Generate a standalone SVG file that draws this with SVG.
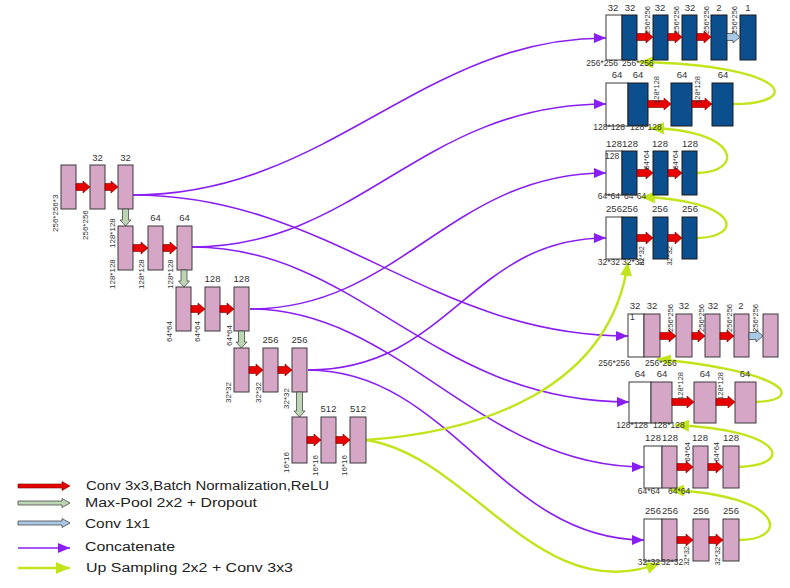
<svg xmlns="http://www.w3.org/2000/svg" width="790" height="588" viewBox="0 0 790 588">
<style>
.pk{fill:#d6a6c6;stroke:#3a3a3a;stroke-width:1}
.bl{fill:#0c4f8f;stroke:#1a1a1a;stroke-width:1}
.wh{fill:#fff;stroke:#3a3a3a;stroke-width:1}
.ra{fill:#e60000;stroke:#700;stroke-width:0.6}
.mp{fill:#bcd6b4;stroke:#4a4a4a;stroke-width:0.8}
.ca{fill:#a9c8e6;stroke:#4a4a4a;stroke-width:0.8}
.cat{fill:none;stroke:#8a1ef2;stroke-width:1.6;marker-end:url(#mkp)}
.up{fill:none;stroke:#c2e41c;stroke-width:2.4;marker-end:url(#mkg)}
text{font-family:"Liberation Sans",Arial,sans-serif;fill:#333}
.n{font-size:9.5px;text-anchor:middle}
.r{font-size:8px}
.re{font-size:7.5px;text-anchor:end}
.b{font-size:8.5px}
.be{font-size:8.5px;text-anchor:end}
.lg{font-size:12.5px;fill:#222}
</style>
<defs>
<marker id="mkp" markerWidth="12" markerHeight="10" refX="12" refY="5" orient="auto" markerUnits="userSpaceOnUse"><path d="M0,0L12,5L0,10Z" fill="#8a1ef2"/></marker>
<marker id="mkg" markerWidth="14" markerHeight="12" refX="14" refY="6" orient="auto" markerUnits="userSpaceOnUse"><path d="M0,0L14,6L0,12Z" fill="#c2e41c"/></marker>
</defs>

<g id="connectors">
<path class="cat" d="M133,195 C330,195 420,38 606,38"/>
<path class="cat" d="M133,195 C330,195 430,336 628,336"/>
<path class="cat" d="M192,247 C360,247 420,104 606,104"/>
<path class="cat" d="M192,247 C360,247 430,402 629,402"/>
<path class="cat" d="M250,309 C400,309 450,173 606,173"/>
<path class="cat" d="M250,309 C400,309 480,467 644,467"/>
<path class="cat" d="M308,370 C450,370 470,238 606,238"/>
<path class="cat" d="M308,370 C450,370 500,540 644,540"/>
<path class="up" d="M733,104 C805,104 790,65 639,62"/>
<path class="up" d="M697,173 C745,172 740,130 650,128"/>
<path class="up" d="M697,238 C745,237 740,200 641,197"/>
<path class="up" d="M366,440 C480,432 610,390 628,262"/>
<path class="up" d="M366,440 C470,455 540,610 660,563"/>
<path class="up" d="M756,402 C805,400 790,372 657,359"/>
<path class="up" d="M739,467 C795,465 785,430 675,425"/>
<path class="up" d="M739,540 C790,540 785,495 670,490"/>
</g>

<g id="enc1">
<rect class="pk" x="61" y="165" width="15" height="44"/>
<rect class="pk" x="90" y="165" width="15" height="44"/>
<rect class="pk" x="118" y="165" width="15" height="44"/>
<path class="ra" d="M76,183.5H83V181L90,187L83,193V190.5H76Z"/>
<path class="ra" d="M105,183.5H111V181L118,187L111,193V190.5H105Z"/>
<text class="n" x="97.5" y="161">32</text>
<text class="n" x="125.5" y="161">32</text>
<text class="r" transform="translate(57.5,232) rotate(-90)">256*256*3</text>
<text class="r" transform="translate(87.5,240) rotate(-90)">256*256</text>
<text class="r" transform="translate(114.5,248) rotate(-90)">128*128</text>
<path class="mp" d="M122.5,209V220H120L125.5,226L131,220H128.5V209Z"/>
</g>

<g id="enc2">
<rect class="pk" x="118" y="226" width="15" height="44"/>
<rect class="pk" x="148" y="226" width="15" height="44"/>
<rect class="pk" x="177" y="226" width="15" height="44"/>
<path class="ra" d="M133,244.5H141V242L148,248L141,254V251.5H133Z"/>
<path class="ra" d="M163,244.5H170V242L177,248L170,254V251.5H163Z"/>
<text class="n" x="155.5" y="221">64</text>
<text class="n" x="184.5" y="221">64</text>
<text class="r" transform="translate(114.5,289) rotate(-90)">128*128</text>
<text class="r" transform="translate(143.5,289) rotate(-90)">128*128</text>
<text class="r" transform="translate(172.5,289) rotate(-90)">128*128</text>
<path class="mp" d="M181,270V281H178.5L184,287L189.5,281H187V270Z"/>
</g>

<g id="enc3">
<rect class="pk" x="176" y="287" width="15" height="44"/>
<rect class="pk" x="205" y="287" width="15" height="44"/>
<rect class="pk" x="234" y="287" width="15" height="44"/>
<path class="ra" d="M191,305.5H198V303L205,309L198,315V312.5H191Z"/>
<path class="ra" d="M220,305.5H227V303L234,309L227,315V312.5H220Z"/>
<text class="n" x="212.5" y="282">128</text>
<text class="n" x="241.5" y="282">128</text>
<text class="r" transform="translate(171.5,342) rotate(-90)">64*64</text>
<text class="r" transform="translate(199.5,342) rotate(-90)">64*64</text>
<text class="r" transform="translate(231.5,346) rotate(-90)">64*64</text>
<path class="mp" d="M238.5,331V342H236L241.5,348L247,342H244.5V331Z"/>
</g>

<g id="enc4">
<rect class="pk" x="234" y="348" width="15" height="44"/>
<rect class="pk" x="263" y="348" width="15" height="44"/>
<rect class="pk" x="292" y="348" width="15" height="44"/>
<path class="ra" d="M249,366.5H256V364L263,370L256,376V373.5H249Z"/>
<path class="ra" d="M278,366.5H285V364L292,370L285,376V373.5H278Z"/>
<text class="n" x="270.5" y="343">256</text>
<text class="n" x="299.5" y="343">256</text>
<text class="r" transform="translate(230.5,403) rotate(-90)">32*32</text>
<text class="r" transform="translate(260.5,403) rotate(-90)">32*32</text>
<text class="r" transform="translate(288.5,409) rotate(-90)">32*32</text>
<path class="mp" d="M296.5,392V411H294L299.5,417L305,411H302.5V392Z"/>
</g>

<g id="enc5">
<rect class="pk" x="292" y="417" width="15" height="46"/>
<rect class="pk" x="321" y="417" width="15" height="46"/>
<rect class="pk" x="350" y="417" width="16" height="46"/>
<path class="ra" d="M307,436.5H314V434L321,440L314,446V443.5H307Z"/>
<path class="ra" d="M336,436.5H343V434L350,440L343,446V443.5H336Z"/>
<text class="n" x="328.5" y="412">512</text>
<text class="n" x="358" y="412">512</text>
<text class="r" transform="translate(288.5,473) rotate(-90)">16*16</text>
<text class="r" transform="translate(317.5,476) rotate(-90)">16*16</text>
<text class="r" transform="translate(346.5,476) rotate(-90)">16*16</text>
</g>

<g id="decA1">
<rect class="wh" x="606" y="15" width="16" height="45"/>
<rect class="bl" x="622" y="15" width="15" height="45"/>
<rect class="bl" x="653" y="15" width="15" height="45"/>
<rect class="bl" x="682" y="15" width="15" height="45"/>
<rect class="bl" x="711" y="15" width="16" height="45"/>
<rect class="bl" x="740" y="15" width="16" height="45"/>
<path class="ra" d="M637,33.5H646V31L653,37L646,43V40.5H637Z"/>
<path class="ra" d="M668,33.5H675V31L682,37L675,43V40.5H668Z"/>
<path class="ra" d="M697,33.5H704V31L711,37L704,43V40.5H697Z"/>
<path class="ca" d="M727,33.5H733V31L740,37L733,43V40.5H727Z"/>
<text class="n" x="613" y="11">32</text>
<text class="n" x="630" y="11">32</text>
<text class="n" x="660" y="11">32</text>
<text class="n" x="690" y="11">32</text>
<text class="n" x="719" y="11">2</text>
<text class="n" x="748" y="11">1</text>
<text class="re" transform="translate(649.5,6) rotate(-90)">256*256</text>
<text class="re" transform="translate(678.5,6) rotate(-90)">256*256</text>
<text class="re" transform="translate(708.5,6) rotate(-90)">256*256</text>
<text class="re" transform="translate(736.5,6) rotate(-90)">256*256</text>
<text class="be" x="618" y="66">256*256</text>
<text class="b" x="622" y="66">256*256</text>
</g>

<g id="decA2">
<rect class="wh" x="606" y="83" width="22" height="43"/>
<rect class="bl" x="628" y="83" width="20" height="43"/>
<rect class="bl" x="671" y="83" width="21" height="43"/>
<rect class="bl" x="712" y="83" width="21" height="43"/>
<path class="ra" d="M648,100.5H664V98L671,104L664,110V107.5H648Z"/>
<path class="ra" d="M692,100.5H705V98L712,104L705,110V107.5H692Z"/>
<text class="n" x="617" y="78">64</text>
<text class="n" x="638" y="78">64</text>
<text class="n" x="682" y="78">64</text>
<text class="n" x="723" y="78">64</text>
<text class="re" transform="translate(658.5,76) rotate(-90)">128*128</text>
<text class="re" transform="translate(699.5,76) rotate(-90)">128*128</text>
<text class="be" x="625" y="130">128*128</text>
<text class="b" x="630" y="130">128*128</text>
</g>

<g id="decA3">
<rect class="wh" x="606" y="151" width="16" height="44"/>
<rect class="bl" x="622" y="151" width="15" height="44"/>
<rect class="bl" x="653" y="151" width="15" height="44"/>
<rect class="bl" x="682" y="151" width="15" height="44"/>
<path class="ra" d="M637,169.5H646V167L653,173L646,179V176.5H637Z"/>
<path class="ra" d="M668,169.5H675V167L682,173L675,179V176.5H668Z"/>
<text class="n" x="614" y="147">128</text>
<text class="n" x="630" y="147">128</text>
<text class="n" x="660" y="147">128</text>
<text class="n" x="690" y="147">128</text>
<text class="b" x="605" y="159">128</text>
<text class="re" transform="translate(648.5,150) rotate(-90)">64*64</text>
<text class="re" transform="translate(677.5,150) rotate(-90)">64*64</text>
<text class="be" x="620" y="199">64*64</text>
<text class="b" x="624" y="199">64*64</text>
</g>

<g id="decA4">
<rect class="wh" x="606" y="217" width="16" height="42"/>
<rect class="bl" x="622" y="217" width="15" height="42"/>
<rect class="bl" x="653" y="217" width="15" height="42"/>
<rect class="bl" x="682" y="217" width="15" height="42"/>
<path class="ra" d="M637,234.5H646V232L653,238L646,244V241.5H637Z"/>
<path class="ra" d="M668,234.5H675V232L682,238L675,244V241.5H668Z"/>
<text class="n" x="614" y="212">256</text>
<text class="n" x="630" y="212">256</text>
<text class="n" x="660" y="212">256</text>
<text class="n" x="690" y="212">256</text>
<text class="re" transform="translate(643.5,246) rotate(-90)">32*32</text>
<text class="re" transform="translate(671.5,246) rotate(-90)">32*32</text>
<text class="be" x="620" y="265">32*32</text>
<text class="b" x="622" y="265">32*32</text>
</g>

<g id="decB1">
<rect class="wh" x="628" y="314" width="16" height="43"/>
<rect class="pk" x="644" y="314" width="16" height="43"/>
<rect class="pk" x="676" y="314" width="16" height="43"/>
<rect class="pk" x="705" y="314" width="15" height="43"/>
<rect class="pk" x="734" y="314" width="15" height="43"/>
<rect class="pk" x="763" y="314" width="15" height="43"/>
<path class="ra" d="M660,332.5H669V330L676,336L669,342V339.5H660Z"/>
<path class="ra" d="M692,332.5H698V330L705,336L698,342V339.5H692Z"/>
<path class="ra" d="M720,332.5H727V330L734,336L727,342V339.5H720Z"/>
<path class="ca" d="M749,332.5H756V330L763,336L756,342V339.5H749Z"/>
<text class="n" x="635" y="309">32</text>
<text class="n" x="652" y="309">32</text>
<text class="n" x="684" y="309">32</text>
<text class="n" x="713" y="309">32</text>
<text class="n" x="741" y="309">2</text>
<text class="b" x="630" y="320">1</text>
<text class="re" transform="translate(672.5,304) rotate(-90)">256*256</text>
<text class="re" transform="translate(703.5,304) rotate(-90)">256*256</text>
<text class="re" transform="translate(731.5,304) rotate(-90)">256*256</text>
<text class="re" transform="translate(757.5,304) rotate(-90)">256*256</text>
<text class="be" x="630" y="366">256*256</text>
<text class="b" x="645" y="366">256*256</text>
</g>

<g id="decB2">
<rect class="wh" x="629" y="382" width="22" height="41"/>
<rect class="pk" x="651" y="382" width="21" height="41"/>
<rect class="pk" x="694" y="382" width="22" height="41"/>
<rect class="pk" x="735" y="382" width="21" height="41"/>
<path class="ra" d="M672,398.5H687V396L694,402L687,408V405.5H672Z"/>
<path class="ra" d="M716,398.5H728V396L735,402L728,408V405.5H716Z"/>
<text class="n" x="640" y="377">64</text>
<text class="n" x="662" y="377">64</text>
<text class="n" x="705" y="377">64</text>
<text class="n" x="745" y="377">64</text>
<text class="re" transform="translate(682.5,372) rotate(-90)">128*128</text>
<text class="re" transform="translate(722.5,372) rotate(-90)">128*128</text>
<text class="be" x="648" y="428">128*128</text>
<text class="b" x="653" y="428">128*128</text>
</g>

<g id="decB3">
<rect class="wh" x="644" y="446" width="18" height="42"/>
<rect class="pk" x="662" y="446" width="15" height="42"/>
<rect class="pk" x="693" y="446" width="15" height="42"/>
<rect class="pk" x="723" y="446" width="16" height="42"/>
<path class="ra" d="M677,463.5H686V461L693,467L686,473V470.5H677Z"/>
<path class="ra" d="M708,463.5H716V461L723,467L716,473V470.5H708Z"/>
<text class="n" x="653" y="441">128</text>
<text class="n" x="670" y="441">128</text>
<text class="n" x="700" y="441">128</text>
<text class="n" x="731" y="441">128</text>
<text class="re" transform="translate(689.5,442) rotate(-90)">64*64</text>
<text class="re" transform="translate(718.5,442) rotate(-90)">64*64</text>
<text class="be" x="660" y="494">64*64</text>
<text class="b" x="668" y="494">64*64</text>
</g>

<g id="decB4">
<rect class="wh" x="644" y="519" width="18" height="42"/>
<rect class="pk" x="662" y="519" width="15" height="42"/>
<rect class="pk" x="693" y="519" width="16" height="42"/>
<rect class="pk" x="723" y="519" width="16" height="42"/>
<path class="ra" d="M677,536.5H686V534L693,540L686,546V543.5H677Z"/>
<path class="ra" d="M709,536.5H716V534L723,540L716,546V543.5H709Z"/>
<text class="n" x="653" y="514">256</text>
<text class="n" x="670" y="514">256</text>
<text class="n" x="701" y="514">256</text>
<text class="n" x="731" y="514">256</text>
<text class="re" transform="translate(688.5,546) rotate(-90)">32*32</text>
<text class="re" transform="translate(719.5,546) rotate(-90)">32*32</text>
<text class="be" x="660" y="565">32*32</text>
<text class="b" x="661" y="565">32*32</text>
</g>

<g id="legend">
<path class="ra" d="M18,484H62V481.5L70,486L62,490.5V488H18Z"/>
<path class="mp" d="M18,501H62V498.5L70,503L62,507.5V505H18Z"/>
<path class="ca" d="M18,521H62V518.5L70,523L62,527.5V525H18Z"/>
<path class="cat" d="M18,548H70"/>
<path class="up" d="M18,568H70"/>
<text class="lg" x="86" y="490" textLength="243" lengthAdjust="spacingAndGlyphs">Conv 3x3,Batch Normalization,ReLU</text>
<text class="lg" x="85" y="507" textLength="172" lengthAdjust="spacingAndGlyphs">Max-Pool 2x2 + Dropout</text>
<text class="lg" x="85" y="528" textLength="65" lengthAdjust="spacingAndGlyphs">Conv 1x1</text>
<text class="lg" x="85" y="551" textLength="90" lengthAdjust="spacingAndGlyphs">Concatenate</text>
<text class="lg" x="86" y="571.5" textLength="207" lengthAdjust="spacingAndGlyphs">Up Sampling 2x2 + Conv 3x3</text>
</g>
</svg>
